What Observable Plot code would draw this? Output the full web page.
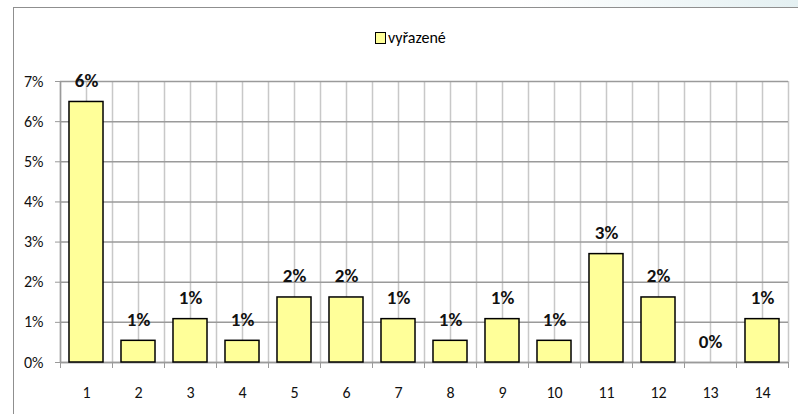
<!DOCTYPE html>
<html><head><meta charset="utf-8">
<script src="https://cdn.jsdelivr.net/npm/d3@7"></script>
<script src="https://cdn.jsdelivr.net/npm/@observablehq/plot@0.6"></script>
<style>
body{margin:0;background:#fff;}
#wrap{position:relative;width:798px;height:414px;overflow:hidden;font-family:Carlito, Lato, sans-serif;}
#topglow{position:absolute;left:0;top:0;width:798px;height:7px;background:linear-gradient(to right, rgba(255,255,255,0) 65%, #e4f0f2 100%);}
#frame{position:absolute;left:13px;top:7px;width:820px;height:440px;border-left:1.5px solid #8f8f8f;border-top:1.5px solid #8f8f8f;}
#legend{position:absolute;top:29px;left:375px;font-size:16px;line-height:18px;display:flex;align-items:center;color:#000;}
#legend .sw{width:9px;height:10px;background:#FFFF99;border:1px solid #000;margin-right:2px;}
#chart{position:absolute;left:0;top:0;}
</style></head>
<body>
<div id="wrap">
  <div id="topglow"></div>
  <div id="frame"></div>
  <div id="chart"></div>
  <div id="legend"><span class="sw"></span><span id="legtext"></span></div>
</div>
<script>
const seriesName = "vyřazené";
const categories = [1, 2, 3, 4, 5, 6, 7, 8, 9, 10, 11, 12, 13, 14];
const tickLabels = ["1", "2", "3", "4", "5", "6", "7", "8", "9", "10", "11", "12", "13", "14"];
const values = [6.49, 0.54, 1.08, 0.54, 1.62, 1.62, 1.08, 0.54, 1.08, 0.54, 2.70, 1.62, 0, 1.08];
const valueLabels = ["6%", "1%", "1%", "1%", "2%", "2%", "1%", "1%", "1%", "1%", "3%", "2%", "0%", "1%"];
const yTicks = [0, 1, 2, 3, 4, 5, 6, 7];
const yTickLabels = ["0%", "1%", "2%", "3%", "4%", "5%", "6%", "7%"];

document.getElementById("legtext").textContent = seriesName;

const data = categories.map((c, i) => ({cat: c, value: values[i], label: valueLabels[i]}));
const half = 0.327;
const boundaries = categories.map(c => c - 0.5).concat([categories[categories.length - 1] + 0.5]);
const gridXs = boundaries.concat(categories);
const font = "Carlito, Lato, sans-serif";

const chart = Plot.plot({
  width: 798,
  height: 414,
  marginLeft: 60,
  marginRight: 10,
  marginTop: 81,
  marginBottom: 52,
  style: {fontFamily: font, background: "transparent", color: "#000"},
  x: {type: "linear", domain: [boundaries[0], boundaries[boundaries.length - 1]], label: null},
  y: {domain: [yTicks[0], yTicks[yTicks.length - 1]], label: null},
  marks: [
    Plot.gridX(gridXs, {stroke: "#c8c8c8", strokeOpacity: 1, strokeWidth: 1.5}),
    Plot.gridY(yTicks, {stroke: "#9a9a9a", strokeOpacity: 1, strokeWidth: 1.5}),
    Plot.ruleX([boundaries[0]], {stroke: "#9a9a9a", strokeWidth: 1.5}),
    Plot.ruleY([yTicks[0]], {stroke: "#9a9a9a", strokeWidth: 1.5}),
    Plot.rectY(data, {x1: d => d.cat - half, x2: d => d.cat + half, y: "value", fill: "#FFFF99", stroke: "#000", strokeWidth: 1.5}),
    Plot.text(data, {x: "cat", y: "value", text: "label", dy: -15, lineAnchor: "bottom", fontWeight: "bold", fontSize: 19, fill: "#111"}),
    Plot.axisY(yTicks, {label: null, tickSize: 5, tickPadding: 12, fontSize: 16, stroke: "#9a9a9a", fill: "#111", tickFormat: d => yTickLabels[yTicks.indexOf(d)]}),
    Plot.axisX(boundaries, {label: null, tickSize: 6, stroke: "#9a9a9a", tickFormat: () => ""}),
    Plot.axisX(categories, {label: null, tickSize: 0, tickPadding: 24, fontSize: 16, fill: "#111", tickFormat: d => tickLabels[categories.indexOf(d)]})
  ]
});
document.getElementById("chart").appendChild(chart);
</script>
</body></html>
